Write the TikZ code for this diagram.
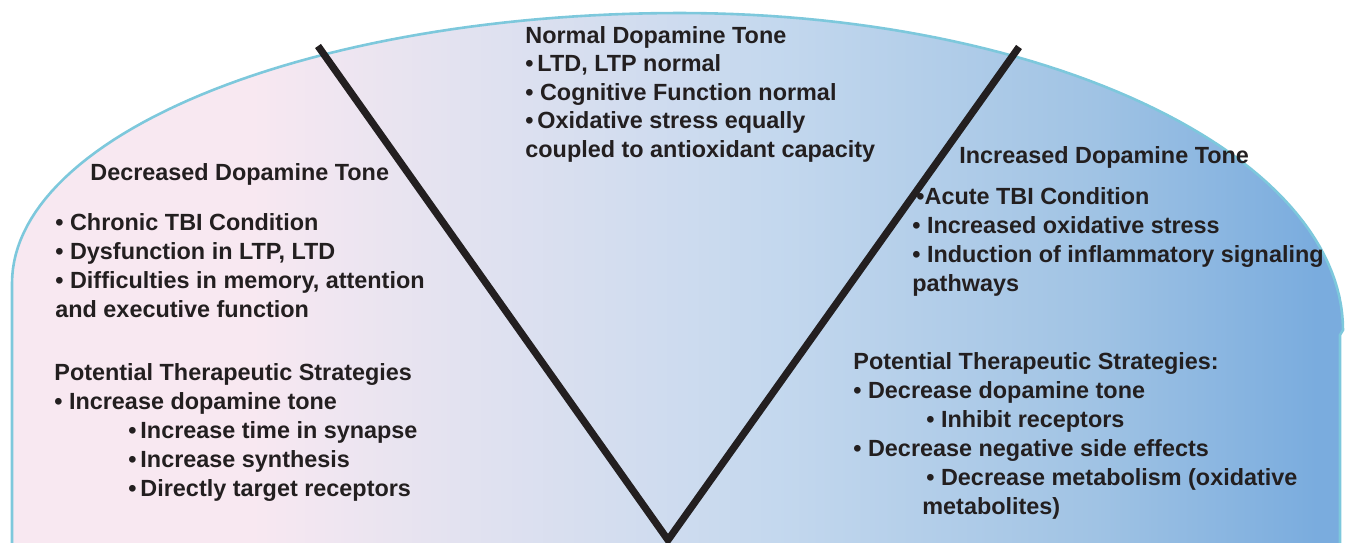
\documentclass[tikz,border=0pt]{standalone}
\usepackage{fontspec}
\setmainfont{Liberation Sans}

\definecolor{dometext}{HTML}{231F20}
\definecolor{domeedge}{HTML}{7DC8DC}
\definecolor{tonepink}{HTML}{F8E8F1}
\definecolor{tonelilac}{HTML}{E2E2F0}
\definecolor{tonesky}{HTML}{C4D8EE}
\definecolor{tonemid}{HTML}{A0C3E4}
\definecolor{toneblue}{HTML}{7AACDE}

% left to right: pink (low tone) over to blue (high tone)
\pgfdeclarehorizontalshading{dopamine}{100bp}{color(0bp)=(tonepink); color(34bp)=(tonepink);
  color(42bp)=(tonelilac); color(53.7bp)=(tonesky); color(65.7bp)=(tonemid);
  color(74bp)=(toneblue); color(100bp)=(toneblue)}

\begin{document}
\begin{tikzpicture}[x=0.5pt,y=-0.5pt,
    txt/.style={anchor=base west, inner sep=0pt, align=left, text=dometext,
      font=\bfseries\fontsize{11.7}{14.5}\selectfont}]
        % Page size
        \useasboundingbox (0,0) rectangle (1348,542);
        \clip (0,0) rectangle (1348,542);

        % Draw the dome
        \shade[shading=dopamine, draw=domeedge, line width=1.3pt]
          (12,570) -- (12,283)
          -- plot[domain=180:90, samples=60] ({680+668*cos(\x)}, {283-270*sin(\x)})
          -- plot[domain=90:0, samples=60] ({680+663*cos(\x)}, {330-317*sin(\x)})
          -- (1340,335) -- (1340,570) -- cycle;

        % Normal tone (multi-line nodes sit on their last baseline)
        \node[txt, font=\bfseries\fontsize{11.7}{14.25}\selectfont] (normal) at (525,157)
          {Normal Dopamine Tone\\
          •\,LTD, LTP normal\\• Cognitive Function normal\\
          •\,Oxidative stress equally\\coupled to antioxidant capacity};

        % Decreased tone
        \node[txt] (decreased) at (90,180) {Decreased Dopamine Tone};
        \node[txt] (lowsymptoms) at (55,317) {• Chronic TBI Condition\\
          • Dysfunction in LTP, LTD\\• Difficulties in memory, attention\\
          and executive function};
        \node[txt, font=\bfseries\fontsize{11.7}{14.4}\selectfont] (lowtherapy) at (54,496)
          {Potential Therapeutic Strategies\\
          • Increase dopamine tone\\
          \hspace*{37pt}•\,Increase time in synapse\\
          \hspace*{37pt}•\,Increase synthesis\\
          \hspace*{37pt}•\,Directly target receptors};

        % Increased tone
        \node[txt] (increased) at (959,163) {Increased Dopamine Tone};
        \node[txt] (highsymptoms) at (912,291) {\hspace*{2pt}•Acute TBI Condition\\
          • Increased oxidative stress\\• Induction of inflammatory signaling\\
          pathways};
        \node[txt] (hightherapy) at (853,514) {Potential Therapeutic Strategies:\\
          • Decrease dopamine tone\\
          \hspace*{36.5pt}• Inhibit receptors\\
          • Decrease negative side effects\\
          \hspace*{36.5pt}• Decrease metabolism (oxidative\\
          \hspace*{34.5pt}metabolites)};

        % The V between the tones
        \coordinate (vleft) at (318,46);
        \coordinate (vbottom) at (668,540);
        \coordinate (vright) at (1019,47);
        \draw[line width=3.6pt, dometext] (vleft) -- (vbottom) -- (vright);
    \end{tikzpicture}
\end{document}
